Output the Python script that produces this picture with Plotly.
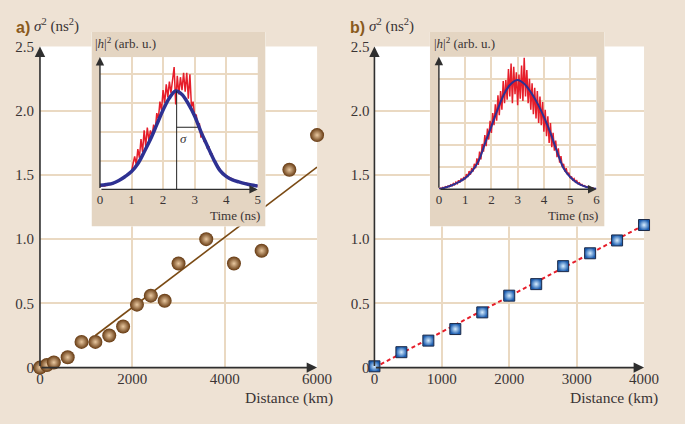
import plotly.graph_objects as go

# ---------------- data ----------------
# panel a: sigma^2 versus distance
dist_a = [0, 150, 300, 600, 900, 1200, 1500, 1800, 2100, 2400, 2700, 3000, 3600, 4200, 4800, 5400, 6000]
sigma2_a = [0.0, 0.02, 0.04, 0.08, 0.20, 0.20, 0.25, 0.32, 0.49, 0.56, 0.52, 0.81, 1.00, 0.81, 0.91, 1.54, 1.81]
fit_dist_a = [1200, 6000]
fit_sigma2_a = [0.25, 1.56]

# panel b: sigma^2 versus distance
dist_b = [0, 400, 800, 1200, 1600, 2000, 2400, 2800, 3200, 3600, 4000]
sigma2_b = [0.01, 0.12, 0.21, 0.30, 0.43, 0.56, 0.65, 0.79, 0.89, 0.99, 1.11]
fit_dist_b = [0, 4000]
fit_sigma2_b = [0.0, 1.11]

# inset a: impulse response |h|^2 (measured, red) and gaussian fit (blue)
time_a_meas = [0.00, 0.05, 0.10, 0.15, 0.20, 0.25, 0.30, 0.35, 0.40, 0.45,
               0.50, 0.55, 0.60, 0.65, 0.70, 0.75, 0.80, 0.85, 0.90, 0.95,
               1.00, 1.05, 1.10, 1.15, 1.20, 1.25, 1.30, 1.35, 1.40, 1.45,
               1.50, 1.55, 1.60, 1.65, 1.70, 1.75, 1.80, 1.85, 1.90, 1.95,
               2.00, 2.05, 2.10, 2.15, 2.20, 2.25, 2.30, 2.35, 2.40, 2.45,
               2.50, 2.55, 2.60, 2.65, 2.70, 2.75, 2.80, 2.85, 2.90, 2.95,
               3.00, 3.05, 3.10, 3.15, 3.20, 3.25, 3.30, 3.35, 3.40, 3.45,
               3.50, 3.55, 3.60, 3.65, 3.70, 3.75, 3.80, 3.85, 3.90, 3.95,
               4.00, 4.05, 4.10, 4.15, 4.20, 4.25, 4.30, 4.35, 4.40, 4.45,
               4.50, 4.55, 4.60, 4.65, 4.70, 4.75, 4.80, 4.85, 4.90, 4.95, 5.00]
h2_a_meas = [0.10, 0.12, 0.13, 0.12, 0.15, 0.16, 0.18, 0.17, 0.20, 0.21,
             0.24, 0.26, 0.30, 0.33, 0.36, 0.40, 0.44, 0.47, 0.52, 0.58,
             0.62, 0.90, 1.15, 0.85, 1.40, 1.10, 1.75, 1.30, 2.05, 1.50,
             2.15, 1.70, 2.05, 1.85, 2.25, 2.05, 2.65, 2.45, 3.05, 2.75,
             3.45, 3.00, 3.65, 3.20, 3.75, 3.35, 3.90, 4.25, 2.95, 3.95,
             3.30, 3.90, 3.45, 4.05, 3.40, 4.05, 3.15, 4.00, 2.85, 3.05,
             2.55, 2.60, 2.20, 2.30, 1.80, 1.95, 1.65, 1.70, 1.45, 1.50,
             1.20, 1.25, 1.00, 1.00, 0.85, 0.80, 0.70, 0.60, 0.58, 0.50,
             0.47, 0.44, 0.41, 0.37, 0.36, 0.32, 0.30, 0.29, 0.26, 0.26,
             0.23, 0.23, 0.20, 0.21, 0.18, 0.19, 0.16, 0.16, 0.14, 0.14, 0.12]
time_a_fit = [0.0, 0.2, 0.4, 0.6, 0.8, 1.0, 1.2, 1.4, 1.6, 1.8, 2.0, 2.2, 2.4,
              2.6, 2.8, 3.0, 3.2, 3.4, 3.6, 3.8, 4.0, 4.2, 4.4, 4.6, 4.8, 5.0]
h2_a_fit = [0.14, 0.17, 0.21, 0.31, 0.45, 0.62, 0.89, 1.30, 1.74, 2.25, 2.76, 3.18, 3.42,
            3.30, 2.97, 2.55, 2.00, 1.52, 1.05, 0.66, 0.45, 0.33, 0.26, 0.20, 0.15, 0.12]
sigma_center_a = 2.43
sigma_edge_a = 3.10
sigma_level_a = 2.16
peak_a = 3.43

# inset b
time_b_meas = [0.00, 0.05, 0.10, 0.15, 0.20, 0.25, 0.30, 0.35, 0.40, 0.45,
               0.50, 0.55, 0.60, 0.65, 0.70, 0.75, 0.80, 0.85, 0.90, 0.95,
               1.00, 1.05, 1.10, 1.15, 1.20, 1.25, 1.30, 1.35, 1.40, 1.45,
               1.50, 1.55, 1.60, 1.65, 1.70, 1.75, 1.80, 1.85, 1.90, 1.95,
               2.00, 2.05, 2.10, 2.15, 2.20, 2.25, 2.30, 2.35, 2.40, 2.45,
               2.50, 2.55, 2.60, 2.65, 2.70, 2.75, 2.80, 2.85, 2.90, 2.95,
               3.00, 3.05, 3.10, 3.15, 3.20, 3.25, 3.30, 3.35, 3.40, 3.45,
               3.50, 3.55, 3.60, 3.65, 3.70, 3.75, 3.80, 3.85, 3.90, 3.95,
               4.00, 4.05, 4.10, 4.15, 4.20, 4.25, 4.30, 4.35, 4.40, 4.45,
               4.50, 4.55, 4.60, 4.65, 4.70, 4.75, 4.80, 4.85, 4.90, 4.95,
               5.00, 5.05, 5.10, 5.15, 5.20, 5.25, 5.30, 5.35, 5.40, 5.45,
               5.50, 5.55, 5.60, 5.65, 5.70, 5.75, 5.80, 5.85, 5.90, 5.95, 6.00]
h2_b_meas = [0.02, 0.05, 0.02, 0.08, 0.05, 0.11, 0.08, 0.15, 0.12, 0.20,
             0.15, 0.26, 0.20, 0.32, 0.25, 0.40, 0.30, 0.48, 0.38, 0.55,
             0.45, 0.68, 0.55, 0.82, 0.66, 0.95, 0.80, 1.15, 0.95, 1.40,
             1.10, 1.70, 1.35, 2.05, 1.70, 2.45, 1.95, 2.75, 2.25, 3.10,
             2.55, 3.45, 2.90, 3.85, 3.10, 4.25, 3.35, 4.45, 3.60, 4.90,
             3.90, 4.95, 4.05, 5.45, 4.20, 5.70, 3.90, 5.55, 4.30, 5.30,
             3.80, 5.20, 4.10, 5.60, 4.00, 5.95, 4.20, 5.40, 3.90, 5.00,
             3.60, 4.80, 3.40, 4.60, 3.20, 4.45, 3.00, 4.20, 2.90, 3.95,
             2.60, 3.60, 2.40, 3.30, 2.10, 3.00, 1.90, 2.55, 1.75, 2.20,
             1.45, 1.85, 1.20, 1.50, 1.00, 1.15, 0.80, 0.95, 0.65, 0.75,
             0.50, 0.58, 0.42, 0.48, 0.33, 0.38, 0.25, 0.29, 0.19, 0.22,
             0.14, 0.16, 0.10, 0.12, 0.07, 0.08, 0.05, 0.06, 0.03, 0.04, 0.02]
time_b_fit = [0.0, 0.25, 0.5, 0.75, 1.0, 1.25, 1.5, 1.75, 2.0, 2.25, 2.5, 2.75, 3.0,
              3.25, 3.5, 3.75, 4.0, 4.25, 4.5, 4.75, 5.0, 5.25, 5.5, 5.75, 6.0]
h2_b_fit = [0.0, 0.08, 0.18, 0.32, 0.50, 0.80, 1.25, 2.05, 2.85, 3.65, 4.35, 4.78, 4.95,
            4.78, 4.40, 3.90, 3.28, 2.55, 1.70, 0.95, 0.55, 0.30, 0.15, 0.06, 0.02]

# tick labels
xticks_a = [0, 2000, 4000, 6000]
xticklabels_a = ["0", "2000", "4000", "6000"]
xticks_b = [0, 1000, 2000, 3000, 4000]
xticklabels_b = ["0", "1000", "2000", "3000", "4000"]
yticks_main = [0, 0.5, 1.0, 1.5, 2.0, 2.5]
yticklabels_main = ["0", "0.5", "1.0", "1.5", "2.0", "2.5"]
xticks_inset_a = [0, 1, 2, 3, 4, 5]
xticks_inset_b = [0, 1, 2, 3, 4, 5, 6]

# ---------------- style ----------------
W, H = 685, 424
BG = "#EEE2D4"
BOX = "#E4D5C2"
GRID = "#EAD9C2"
TXT = "#3A3434"
AX = "#2F2F2F"
RED = "#E61E2A"
BLUE = "#2E3192"
SERIF = "Liberation Serif"


def px(x):
    return x / W


def py(y):
    return 1 - y / H


def dom_x(a, b):
    return [px(a), px(b)]


def dom_y(top, bottom):
    return [py(bottom), py(top)]


fig = go.Figure()

# main a
fig.add_trace(go.Scatter(x=fit_dist_a, y=fit_sigma2_a, mode="lines",
                         line=dict(color="#7A4A14", width=1.6),
                         xaxis="x", yaxis="y", showlegend=False))
fig.add_trace(go.Scatter(x=dist_a, y=sigma2_a, mode="markers", cliponaxis=False,
                         marker=dict(size=14, color="#643810",
                                     gradient=dict(type="radial", color="#E9C8A0"),
                                     line=dict(width=0)),
                         xaxis="x", yaxis="y", showlegend=False))
# main b
fig.add_trace(go.Scatter(x=fit_dist_b, y=fit_sigma2_b, mode="lines",
                         line=dict(color=RED, width=2, dash="4px,3px"),
                         xaxis="x2", yaxis="y2", showlegend=False))
fig.add_trace(go.Scatter(x=dist_b, y=sigma2_b, mode="markers", cliponaxis=False,
                         marker=dict(size=11, symbol="square", color="#1B5DB0",
                                     gradient=dict(type="radial", color="#D8EEFF"),
                                     line=dict(width=1, color="#1C2A48")),
                         xaxis="x2", yaxis="y2", showlegend=False))
# inset a
fig.add_trace(go.Scatter(x=time_a_meas, y=h2_a_meas, mode="lines",
                         line=dict(color=RED, width=1.5),
                         xaxis="x5", yaxis="y5", showlegend=False))
fig.add_trace(go.Scatter(x=time_a_fit, y=h2_a_fit, mode="lines",
                         line=dict(color=BLUE, width=3.5, shape="spline"),
                         xaxis="x5", yaxis="y5", showlegend=False))
# inset b
fig.add_trace(go.Scatter(x=time_b_meas, y=h2_b_meas, mode="lines",
                         line=dict(color=RED, width=1.5),
                         xaxis="x6", yaxis="y6", showlegend=False))
fig.add_trace(go.Scatter(x=time_b_fit, y=h2_b_fit, mode="lines",
                         line=dict(color=BLUE, width=2, shape="spline"),
                         xaxis="x6", yaxis="y6", showlegend=False))

main_tick_font = dict(family=SERIF, size=15, color=TXT)
inset_tick_font = dict(family=SERIF, size=13, color=TXT)

base = dict(showline=False, zeroline=False, ticks="", showgrid=True,
            gridcolor=GRID, gridwidth=1.5, fixedrange=True)
hidden = dict(visible=False, range=[0, 1], fixedrange=True, showgrid=False, zeroline=False)

layout = dict(
    width=W, height=H, autosize=False,
    margin=dict(l=0, r=0, t=0, b=0),
    paper_bgcolor=BG, plot_bgcolor="white",
    showlegend=False,
    xaxis=dict(base, domain=dom_x(37, 322), range=[0, 6000], anchor="y",
               tickvals=xticks_a, ticktext=xticklabels_a, tickfont=main_tick_font,
               ticklabelstandoff=0),
    yaxis=dict(base, domain=dom_y(40, 373.7), range=[0, 2.5], anchor="x",
               tickvals=yticks_main, ticktext=yticklabels_main, tickfont=main_tick_font,
               ticklabelstandoff=5),
    xaxis2=dict(base, domain=dom_x(381, 658.3), range=[0, 4000], anchor="y2",
                tickvals=xticks_b, ticktext=xticklabels_b, tickfont=main_tick_font,
                ticklabelstandoff=0),
    yaxis2=dict(base, domain=dom_y(40, 373.7), range=[0, 2.5], anchor="x2",
                tickvals=yticks_main, ticktext=yticklabels_main, tickfont=main_tick_font,
                ticklabelstandoff=4),
    xaxis3=dict(hidden, domain=dom_x(90, 269), anchor="y3"),
    yaxis3=dict(hidden, domain=dom_y(25, 227), anchor="x3"),
    xaxis4=dict(hidden, domain=dom_x(438, 617.7), anchor="y4"),
    yaxis4=dict(hidden, domain=dom_y(25, 227), anchor="x4"),
    xaxis5=dict(base, domain=dom_x(98.7, 261), range=[0, 5], anchor="y5",
                tickvals=xticks_inset_a, tickfont=inset_tick_font, ticklabelstandoff=1),
    yaxis5=dict(base, domain=dom_y(51, 188.5), range=[0, 4.6], anchor="x5",
                tickvals=[1, 2, 3, 4], showticklabels=False),
    xaxis6=dict(base, domain=dom_x(447.3, 609.3), range=[0, 6], anchor="y6",
                tickvals=xticks_inset_b, tickfont=inset_tick_font, ticklabelstandoff=1),
    yaxis6=dict(base, domain=dom_y(50.7, 188.3), range=[0, 6], anchor="x6",
                tickvals=[1, 2, 3, 4, 5], showticklabels=False),
)
fig.update_layout(**layout)

shapes = [
    dict(type="rect", xref="x3", yref="y3", x0=0, x1=1, y0=0, y1=1,
         fillcolor=BOX, line=dict(width=0), layer="below"),
    dict(type="rect", xref="x4", yref="y4", x0=0, x1=1, y0=0, y1=1,
         fillcolor=BOX, line=dict(width=0), layer="below"),
    # sigma marker in inset a
    dict(type="line", xref="x5", yref="y5", x0=sigma_center_a, x1=sigma_center_a,
         y0=0, y1=peak_a, line=dict(color="#222", width=1), layer="above"),
    dict(type="line", xref="x5", yref="y5", x0=sigma_center_a, x1=sigma_edge_a,
         y0=sigma_level_a, y1=sigma_level_a, line=dict(color="#222", width=1), layer="above"),
]
fig.update_layout(shapes=shapes)

annotations = []


def arrow(xr, yr, x0, y0, x1, y1, size=1.3, width=1.6):
    annotations.append(dict(xref=xr, yref=yr, axref=xr, ayref=yr, x=x1, y=y1, ax=x0, ay=y0,
                            text="", showarrow=True, arrowhead=2, arrowsize=size,
                            arrowwidth=width, arrowcolor=AX, standoff=0, startstandoff=0))


arrow("x", "y", 0, 0, 0, 2.5)
arrow("x", "y", 0, 0, 6000, 0)
arrow("x2", "y2", 0, 0, 0, 2.5)
arrow("x2", "y2", 0, 0, 4000, 0)
arrow("x5", "y5", 0, 0, 0, 4.6, 1.2, 1.4)
arrow("x5", "y5", 0, 0, 5, 0, 1.2, 1.4)
arrow("x6", "y6", 0, 0, 0, 6, 1.2, 1.4)
arrow("x6", "y6", 0, 0, 6, 0, 1.2, 1.4)


def label(x, y, text, size, xanchor="left", family=SERIF, color=TXT):
    annotations.append(dict(xref="paper", yref="paper", x=px(x), y=py(y), text=text,
                            showarrow=False, xanchor=xanchor, yanchor="middle",
                            font=dict(family=family, size=size, color=color)))


label(10, 20.5, "<b>a)</b>", 16, family="Liberation Sans", color="#8A5A1C")
label(29, 18, "<i>σ</i><sup>2</sup> (ns<sup>2</sup>)", 15)
label(353.5, 20.5, "<b>b)</b>", 16, family="Liberation Sans", color="#8A5A1C")
label(373, 18, "<i>σ</i><sup>2</sup> (ns<sup>2</sup>)", 15)
label(340, 405, "Distance (km)", 15.5, xanchor="right")
label(675, 405, "Distance (km)", 15.5, xanchor="right")
label(92, 36, "|<i>h</i>|<sup>2</sup> (arb. u.)", 13)
label(440, 36, "|<i>h</i>|<sup>2</sup> (arb. u.)", 13)
label(265, 216, "Time (ns)", 13, xanchor="right")
label(613.5, 216, "Time (ns)", 13, xanchor="right")
annotations.append(dict(xref="x5", yref="y5", x=2.66, y=1.78, text="<i>σ</i>", showarrow=False,
                        font=dict(family=SERIF, size=13, color=TXT)))

fig.update_layout(annotations=annotations)

fig.write_html("out.html", config={"displayModeBar": False},
               post_script="document.body.style.margin='0';document.body.style.overflow='hidden';")
